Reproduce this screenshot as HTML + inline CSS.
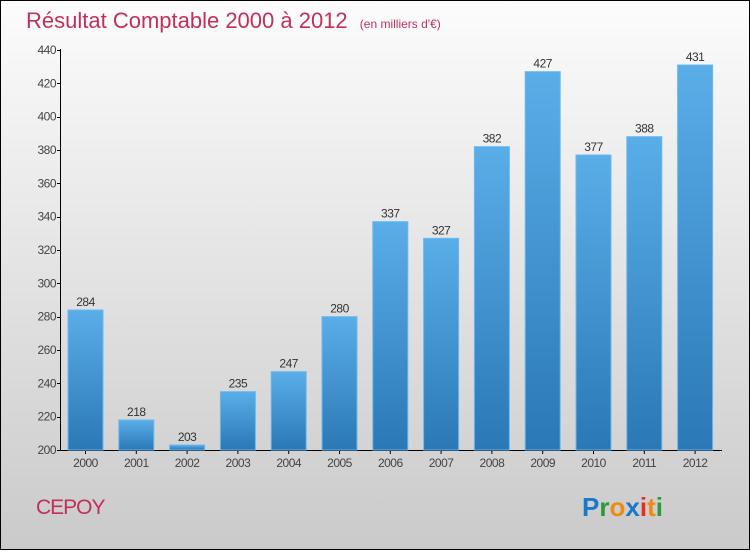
<!DOCTYPE html>
<html><head><meta charset="utf-8"><style>
body{margin:0;width:750px;height:550px;overflow:hidden;font-family:"Liberation Sans",sans-serif}
</style></head><body>
<svg id="chart" width="750" height="550" xmlns="http://www.w3.org/2000/svg">
<defs>
<linearGradient id="bg" x1="0" y1="0" x2="0" y2="1"><stop offset="0" stop-color="#fcfcfc"/><stop offset="1" stop-color="#cacaca"/></linearGradient>
<linearGradient id="bar" x1="0" y1="0" x2="0" y2="1"><stop offset="0" stop-color="#5aaee8"/><stop offset="1" stop-color="#2a78b6"/></linearGradient>
</defs>
<rect x="0.5" y="0.5" width="749" height="549" fill="url(#bg)" stroke="#000"/>
<text x="26" y="28" font-size="22" fill="#c0305a">Résultat Comptable 2000 à 2012 <tspan font-size="12" dx="6">(en milliers d'€)</tspan></text>
<g id="axes"></g><g id="bars"></g>
<text x="36" y="514" font-size="21" fill="#c0305a" letter-spacing="-1">CEPOY</text>
<g font-size="26" font-weight="bold" font-family="'Liberation Sans',sans-serif">
<text x="582" y="516"><tspan fill="#1a78c8">P</tspan><tspan fill="#2a9a3a">r</tspan><tspan fill="#f08a10">o</tspan><tspan fill="#1a78c8">x</tspan><tspan fill="#e03020">i</tspan><tspan fill="#f08a10">t</tspan><tspan fill="#2a9a3a">i</tspan></text></g>
</svg>
<script>
const years=["2000","2001","2002","2003","2004","2005","2006","2007","2008","2009","2010","2011","2012"];
const values=[284,218,203,235,247,280,337,327,382,427,377,388,431];
const ticks=[200,220,240,260,280,300,320,340,360,380,400,420,440];
const NS="http://www.w3.org/2000/svg";
const y=v=>450-(v-200)*400/240;
const x=i=>85.5+i*50.8;
function mk(t,a,p){const e=document.createElementNS(NS,t);for(const k in a)e.setAttribute(k,a[k]);p.appendChild(e);return e;}
const ax=document.getElementById('axes'),bg=document.getElementById('bars');
let l=mk('line',{x1:60.5,y1:49,x2:60.5,y2:450.5,stroke:'#000'},ax);


l=mk('line',{x1:60,y1:450.5,x2:722,y2:450.5,stroke:'#000'},ax);


ticks.forEach(t=>{mk('line',{x1:57,y1:Math.round(y(t))+0.5,x2:61,y2:Math.round(y(t))+0.5,stroke:'#000'},ax);
const tx=mk('text',{x:56,y:y(t)+4,'font-size':12,fill:'#444','text-anchor':'end','letter-spacing':'-0.5'},ax);tx.textContent=t;

});
years.forEach((yr,i)=>{const v=values[i];
const r=mk('rect',{x:x(i)-17.5,y:y(v),width:35,height:450-y(v),fill:'url(#bar)',stroke:'#6ab8f0','stroke-width':1},bg);


const vt=mk('text',{x:x(i),y:y(v)-4,'font-size':12,fill:'#333','text-anchor':'middle','letter-spacing':'-0.5'},bg);vt.textContent=v;


mk('line',{x1:x(i),y1:450,x2:x(i),y2:454,stroke:'#000'},ax);
const xt=mk('text',{x:x(i),y:467,'font-size':12,fill:'#444','text-anchor':'middle','letter-spacing':'-0.5'},ax);xt.textContent=yr;

});
</script>
</body></html>
